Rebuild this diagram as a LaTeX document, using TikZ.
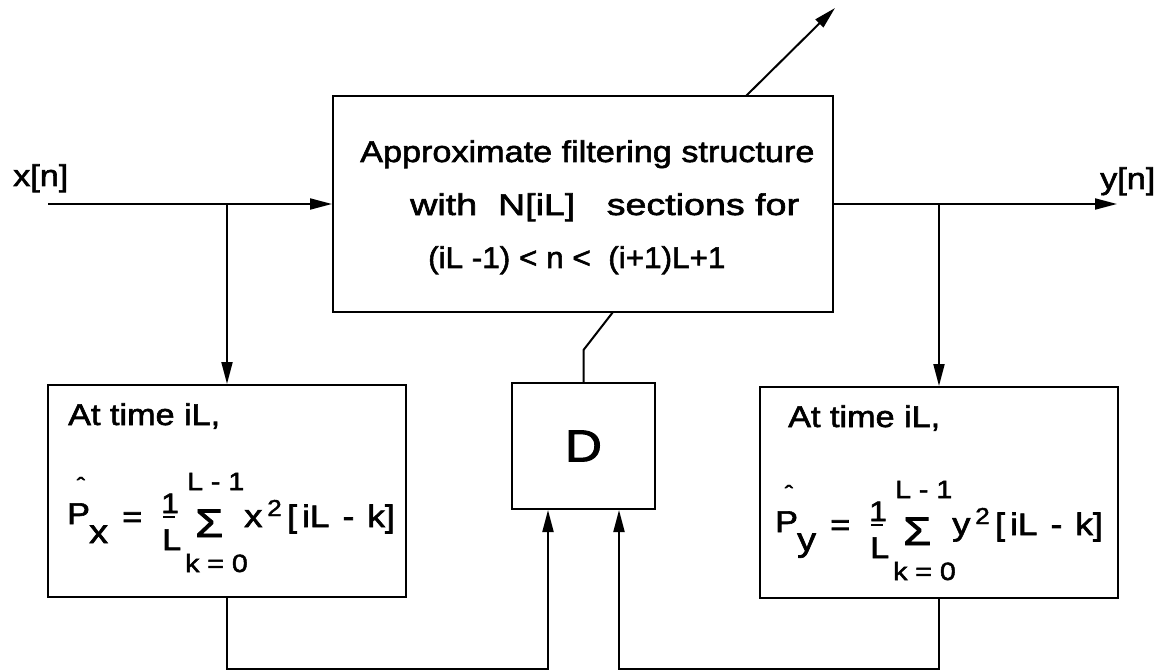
\documentclass[tikz,border=0pt]{standalone}
\usepackage{fontspec}
\setmainfont{Liberation Sans}[FakeStretch=1.14,FakeBold=2]
\usetikzlibrary{arrows.meta,calc}
\tikzset{
  box/.style={draw, line width=2pt, inner sep=0pt},
  wire/.style={line width=2pt},
  arr/.style={wire, -{Triangle[length=22pt,width=11pt]}},
  txt/.style={anchor=base west, inner sep=0pt, font=\fontsize{30}{36}\selectfont},
  sm/.style={anchor=base west, inner sep=0pt, font=\fontsize{24}{28}\selectfont},
}
\newcommand\powerformula[4]{%
  \begin{scope}[shift={(#2,#3)}]
    \node[txt] (#1P) at (0,-3) {P};
    \node[anchor=base, inner sep=0pt, font=\fontsize{22}{22}\selectfont] (#1hat) at (14,-34) {ˆ};
    \node[txt, font=\fontsize{33}{36}\selectfont] (#1sub) at (22,16) {#4};
    \node[txt] (#1eq) at (55,0) {=};
    \node[txt, font=\fontsize{28}{30}\selectfont] (#1one) at (94,-14) {1};
    \draw[line width=1.8pt] (96,-10) -- (108,-10);
    \node[txt] (#1L) at (95,23) {L};
    \node[anchor=base west, inner sep=0pt, font=\fontsize{40}{42}\selectfont] (#1sum) at (128,10) {Σ};
    \node[sm, font=\fontsize{25}{28}\selectfont] (#1up) at (120,-37) {L - 1};
    \node[sm, font=\fontsize{25}{28}\selectfont] (#1lo) at (118,45) {k = 0};
    \node[txt, font=\fontsize{32}{36}\selectfont] (#1var) at (177,0) {#4};
    \node[sm, font=\fontsize{23}{24}\selectfont] (#1sq) at (200,-11) {2};
    \node[txt, font=\fontsize{31}{36}\selectfont] (#1arg) at (220,0) {[\hspace{5pt}iL\hspace{13pt}-\hspace{13pt}k]};
  \end{scope}}
\begin{document}
\begin{tikzpicture}[x=1pt,y=-1pt]
\useasboundingbox (0,0) rectangle (1162,671);
% boxes
\node[box, minimum width=500pt, minimum height=216pt] (main) at (583,204) {};
\node[box, minimum width=358pt, minimum height=212pt] (lbox) at (227,491) {};
\node[box, minimum width=358pt, minimum height=211pt] (rbox) at (939,492.5) {};
\node[box, minimum width=143pt, minimum height=126pt, font=\fontsize{45}{48}\selectfont] (D) at (583.5,446) {D};
% main box text
\node[txt] (m1) at (360,162) {Approximate filtering structure};
\node[txt, xscale=1.1] (m2) at (410,215) {with\ \ N[iL]\ \ \ sections for};
\node[txt, xscale=0.92] (m3) at (428,268) {(iL -1) < n <\ \ (i+1)L+1};
% signal labels
\node[txt] (xlab) at (13,186) {x[n]};
\node[txt] (ylab) at (1100,189) {y[n]};
% estimator boxes
\node[txt] (lt) at (68,425) {At time iL,};
\node[txt] (rt) at (788,427) {At time iL,};
\powerformula{lf}{67}{527}{x}
\powerformula{rf}{775}{535}{y}
% connectors
\coordinate (xin) at (48,204);
\coordinate (jx) at (227,204);
\coordinate (yout) at (1117,204);
\coordinate (jy) at (939,204);
\coordinate (topS) at (746,96);
\coordinate (topE) at (835,8);
\coordinate (dk) at (583.5,350);
\coordinate (mb) at (613,312);
\coordinate (bl) at (227,669);
\coordinate (br) at (939,669);
\coordinate (dinL) at ($(D.south)+(-35.5,0)$);
\coordinate (dinR) at ($(D.south)+(35.5,0)$);
\draw[arr] (xin) -- (main.west);
\draw[arr] (jx) -- (lbox.north);
\draw[arr] (main.east) -- (yout);
\draw[arr] (jy) -- (rbox.north);
\draw[arr] (topS) -- (topE);
\draw[wire] (D.north) -- (dk) -- (mb);
\draw[arr] (lbox.south) -- (bl) -| (dinL);
\draw[arr] (rbox.south) -- (br) -| (dinR);
\end{tikzpicture}
\end{document}
